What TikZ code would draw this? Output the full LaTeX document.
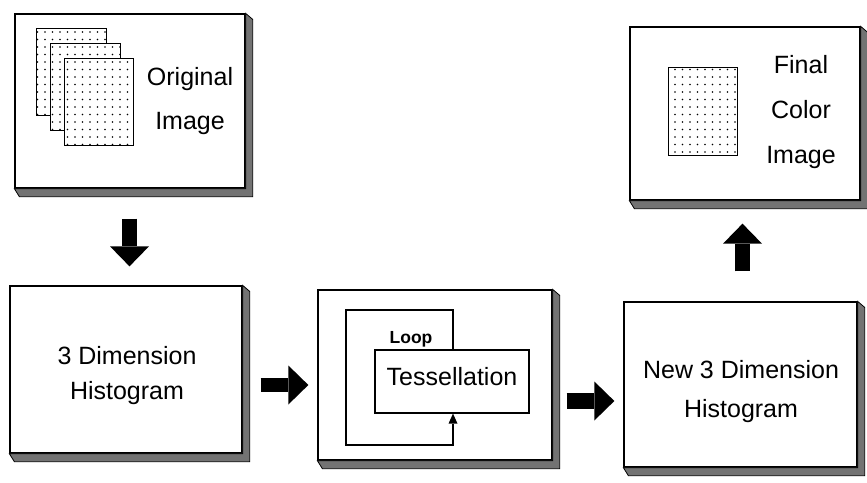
\documentclass[tikz,border=0pt]{standalone}
\usepackage{fontspec}
\setmainfont{Liberation Sans}
\usetikzlibrary{calc,arrows.meta,patterns.meta}
\begin{document}
\begin{tikzpicture}[x=1pt,y=-1pt,
  box/.style={draw=black, line width=1.3pt, fill=white, inner sep=0pt},
  shadowband/.style={fill=black!55, draw=black, line width=0.8pt},
  page/.style={draw=black, line width=1pt, fill=white, inner sep=0pt,
    postaction={pattern={Dots[distance=7.5pt,radius=0.85pt]}}},
  lbl/.style={align=center, inner sep=0pt},
  blockarrow/.style={line width=15pt, -{Triangle[width=39pt,length=20pt,line width=0pt]}},
  thin/.style={draw=black, line width=1.2pt},
]
\fill[white] (0,0) rectangle (867,482);
\useasboundingbox (0,0) rectangle (867,482);

% main boxes
\node[box, minimum width=230pt, minimum height=174pt] (orig) at (130,101) {};
\node[box, minimum width=232pt, minimum height=167pt] (hist) at (126,369.5) {};
\node[box, minimum width=234pt, minimum height=170pt] (tess) at (435,375) {};
\node[box, minimum width=233pt, minimum height=165pt] (newh) at (740.5,384.5) {};
\node[box, minimum width=230pt, minimum height=173pt] (final) at (745,113.5) {};

% shadows
\foreach \n in {orig,hist,tess,newh,final}{
  \filldraw[shadowband] (\n.north east) -- ++(7,6) -- ($(\n.south east)+(7,8)$)
    -- ($(\n.south west)+(5,8)$) -- (\n.south west) -- (\n.south east) -- cycle;
}

% pages in original image
\node[page, minimum width=70pt, minimum height=87pt] (p1) at (71,71.5) {};
\node[page, minimum width=70pt, minimum height=87pt] (p2) at (85,86.5) {};
\node[page, minimum width=69pt, minimum height=87pt] (p3) at (98.5,101.5) {};
\node[page, minimum width=69pt, minimum height=88pt] (pf) at (702.5,111) {};

% labels
\node[lbl, font=\fontsize{25}{44}\selectfont] (t1) at (190,101.5) {Original\\Image};
\node[lbl, font=\fontsize{25}{35}\selectfont] (t2) at (127,376) {3 Dimension\\Histogram};
\node[lbl, font=\fontsize{25}{39}\selectfont] (t3) at (741,392) {New 3 Dimension\\Histogram};
\node[lbl, font=\fontsize{25}{45}\selectfont] (t4) at (801,112.5) {Final\\Color\\Image};

% tessellation loop
\node[thin, fill=white, minimum width=154pt, minimum height=63pt, inner sep=0pt,
  text depth=10pt, font=\fontsize{25}{30}\selectfont] (tb) at (452,381.5) {Tessellation};
\node[font=\bfseries\fontsize{17.5}{21}\selectfont, inner sep=0pt] (loop) at (411,339) {Loop};
\coordinate (lTR) at (453,310);
\coordinate (lTL) at (346,310);
\coordinate (lBL) at (346,445);
\coordinate (lBR) at (453,445);
\draw[thin, -{Triangle[width=9pt,length=10pt,line width=0pt]}]
  (tb.north -| lTR) -- (lTR) -- (lTL) -- (lBL) -- (lBR) -- (tb.south -| lBR);

% block arrows
\draw[blockarrow, shorten <=30pt, shorten >=19pt]
  ([xshift=-0.5pt]orig.south) -- ([xshift=-0.5pt]orig.south |- hist.north);
\draw[blockarrow, line width=14pt, shorten <=18pt, shorten >=9pt]
  ([yshift=-15.5pt]hist.east) -- ([yshift=-15.5pt]hist.east -| tess.west);
\draw[blockarrow, line width=16pt, shorten <=14pt, shorten >=9pt]
  ([yshift=-26pt]tess.east) -- ([yshift=-26pt]tess.east -| newh.west);
\draw[blockarrow, shorten <=30pt, shorten >=23pt]
  ([xshift=2pt]newh.north) -- ([xshift=2pt]newh.north |- final.south);
\end{tikzpicture}
\end{document}
